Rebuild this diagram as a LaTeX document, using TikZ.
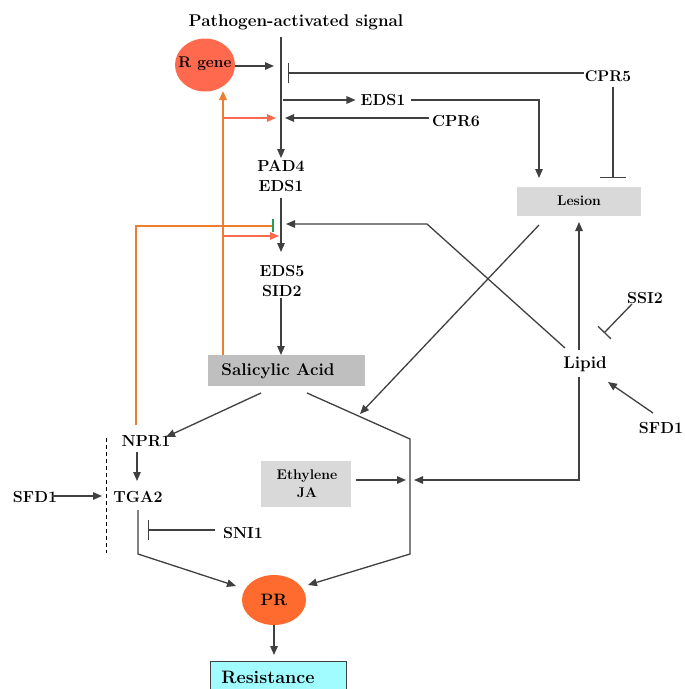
\documentclass[tikz,border=0pt]{standalone}
\usetikzlibrary{arrows.meta,shapes.geometric}
\definecolor{ln}{HTML}{404040}
\definecolor{org}{HTML}{ED7D31}
\definecolor{tom}{HTML}{FA6A50}
\definecolor{rg}{HTML}{FF6A4F}
\definecolor{prc}{HTML}{FF6A2E}
\definecolor{lgray}{HTML}{D9D9D9}
\definecolor{mgray}{HTML}{BFBFBF}
\definecolor{cyanb}{HTML}{A0FCFF}
\definecolor{grn}{HTML}{22A050}
\tikzset{
  lbl/.style={font=\bfseries\fontsize{16}{20}\selectfont, inner sep=1pt, align=center, text=black},
  conn/.style={draw=ln, line width=1.3pt},
  arr/.style={conn, -{Triangle[length=9pt,width=7.5pt]}},
  inh/.style={conn, -{Bar[width=#1,line width=1.3pt]}},
  inh/.default=20pt,
  oline/.style={draw=org, line width=2pt},
  oarr/.style={oline, -{Triangle[length=9pt,width=7.5pt]}},
  rarr/.style={draw=tom, line width=1.3pt, -{Triangle[length=9pt,width=7.5pt]}},
  boxg/.style={rectangle, fill=#1, inner sep=0pt},
  ell/.style={ellipse, fill=#1, inner sep=0pt},
}
\begin{document}
\begin{tikzpicture}[x=1pt,y=-1pt]
\clip (0,0) rectangle (685,689);
\fill[white] (0,0) rectangle (685,689);

% ---- nodes ----
\node[lbl, font=\bfseries\fontsize{17}{20}\selectfont] (sig) at (296,22) {Pathogen-activated signal};
\node[ell=rg, minimum width=60pt, minimum height=53pt] (rgene) at (205,65) {};
\node[lbl, font=\bfseries\fontsize{15.5}{18}\selectfont] (rgenet) at (205,64) {R gene};
\node[lbl, font=\bfseries\fontsize{15.5}{18}\selectfont] (cpr5) at (608,76) {CPR5};
\node[lbl] (eds1a) at (383,100) {EDS1};
\node[lbl] (cpr6) at (456,121) {CPR6};
\node[lbl] (pad) at (281,176) {PAD4\\EDS1};
\node[boxg=lgray, minimum width=124pt, minimum height=29pt] (lesion) at (579,201.5) {};
\node[lbl, font=\bfseries\fontsize{14}{16}\selectfont] (lesiont) at (579,201) {Lesion};
\node[lbl] (eds5) at (282,281) {EDS5\\SID2};
\node[boxg=mgray, minimum width=157pt, minimum height=31pt] (sa) at (286.5,370.5) {};
\node[lbl, font=\bfseries\fontsize{17}{20}\selectfont] (sat) at (278,371) {Salicylic Acid};
\node[lbl, font=\bfseries\fontsize{17}{20}\selectfont] (lipid) at (585,364) {Lipid};
\node[lbl] (ssi2) at (645,298) {SSI2};
\node[lbl] (sfd1r) at (661,428) {SFD1};
\node[lbl] (npr1) at (146,441) {NPR1};
\node[lbl] (tga2) at (138,497) {TGA2};
\node[lbl] (sfd1l) at (35,497) {SFD1};
\node[lbl] (sni1) at (243,533) {SNI1};
\node[boxg=lgray, minimum width=90pt, minimum height=46pt] (eth) at (306,484) {};
\node[lbl, font=\bfseries\fontsize{14}{18}\selectfont] (etht) at (307,484) {Ethylene\\JA};
\node[ell=prc, minimum width=64pt, minimum height=50pt] (pr) at (274,600) {};
\node[lbl, font=\bfseries\fontsize{16.5}{18}\selectfont] (prt) at (274,600) {PR};
\node[rectangle, draw=ln, line width=1pt, fill=cyanb, minimum width=136pt, minimum height=40pt, inner sep=0pt] (res) at (278,681) {};
\node[lbl, font=\bfseries\fontsize{18}{20}\selectfont] (rest) at (268,677) {Resistance};

% ---- coordinates ----
\coordinate (vtop) at (281,37);
\coordinate (padin) at (281,158);
\coordinate (rgin) at (274,66);
\coordinate (c5bar) at (288,73);
\coordinate (c5low) at (613,178);
\coordinate (c5up) at (613,87);
\coordinate (e1s) at (283,100);
\coordinate (lesin) at (539,178);
\coordinate (c6tip) at (285,118);
\coordinate (otop) at (223,91);
\coordinate (obot) at (223,355);
\coordinate (r1s) at (223,118);
\coordinate (r1e) at (276,118);
\coordinate (padout) at (281,198);
\coordinate (e5in) at (281,252);
\coordinate (gbar) at (272,226);
\coordinate (onpr) at (136,425);
\coordinate (r2s) at (224,236);
\coordinate (r2e) at (279,236);
\coordinate (lipnw) at (565,348);
\coordinate (bend1) at (427,224);
\coordinate (e5tip) at (286,224);
\coordinate (e5out) at (281,298);
\coordinate (sain) at (281,355);
\coordinate (liptop) at (579,350);
\coordinate (lesbot) at (579,222);
\coordinate (lipbot) at (579,377);
\coordinate (lipcorner) at (579,480);
\coordinate (jtip) at (414,480);
\coordinate (ssis) at (632,304);
\coordinate (ssie) at (604,333);
\coordinate (sfds) at (653,413);
\coordinate (sfde) at (608,382);
\coordinate (lesbl) at (539,225);
\coordinate (xtip) at (360,414);
\coordinate (sal) at (261,393);
\coordinate (nprin) at (166,437);
\coordinate (sar) at (307,393);
\coordinate (rb1) at (410,439);
\coordinate (rb2) at (410,554);
\coordinate (prr) at (308,585);
\coordinate (nprout) at (137,452);
\coordinate (tgain) at (137,481);
\coordinate (dtop) at (106,438);
\coordinate (dbot) at (106,553);
\coordinate (sfdls) at (52,496);
\coordinate (sfdle) at (102,496);
\coordinate (snis) at (215,530);
\coordinate (snie) at (148,530);
\coordinate (tgaout) at (138,510);
\coordinate (lb) at (138,554);
\coordinate (prl) at (236,586);
\coordinate (eths) at (356,480);
\coordinate (ethe) at (406,480);
\coordinate (prout) at (274,625);
\coordinate (resin) at (274,655);

% ---- connectors ----
\draw[arr] (vtop) -- (padin);
\draw[arr] (rgene.east |- rgin) -- (rgin);
\draw[inh] (cpr5.west |- c5bar) -- (c5bar);
\draw[inh=26pt] (c5up) -- (c5low);
\draw[arr] (e1s) -- ([xshift=-4pt]eds1a.west);
\draw[arr] ([xshift=4pt]eds1a.east) -| (lesin);
\draw[arr] ([xshift=-2pt]cpr6.west |- c6tip) -- (c6tip);
\draw[oarr] (obot) -- (otop);
\draw[rarr] (r1s) -- (r1e);
\draw[arr] (padout) -- (e5in);
\draw[oline] (onpr) |- (gbar);
\draw[draw=grn, line width=1.3pt] (273,219) -- (273,232);
\draw[rarr] (r2s) -- (r2e);
\draw[arr] (lipnw) -- (bend1) -- (e5tip);
\draw[arr] (e5out) -- (sain);
\draw[arr] (liptop) -- (lesbot);
\draw[arr] (lipbot) -- (lipcorner) -- (jtip);
\draw[inh=18pt] (ssis) -- (ssie);
\draw[arr] (sfds) -- (sfde);
\draw[arr] (lesbl) -- (xtip);
\draw[arr] (sal) -- (nprin);
\draw[arr] (sar) -- (rb1) -- (rb2) -- (prr);
\draw[arr] (nprout) -- (tgain);
\draw[draw=black, line width=1pt, dashed, dash pattern=on 4pt off 3pt] (dtop) -- (dbot);
\draw[arr] (sfdls) -- (sfdle);
\draw[inh] (snis) -- (snie);
\draw[arr] (tgaout) -- (lb) -- (prl);
\draw[arr] (eths) -- (ethe);
\draw[arr] (prout) -- (resin);
\end{tikzpicture}
\end{document}
